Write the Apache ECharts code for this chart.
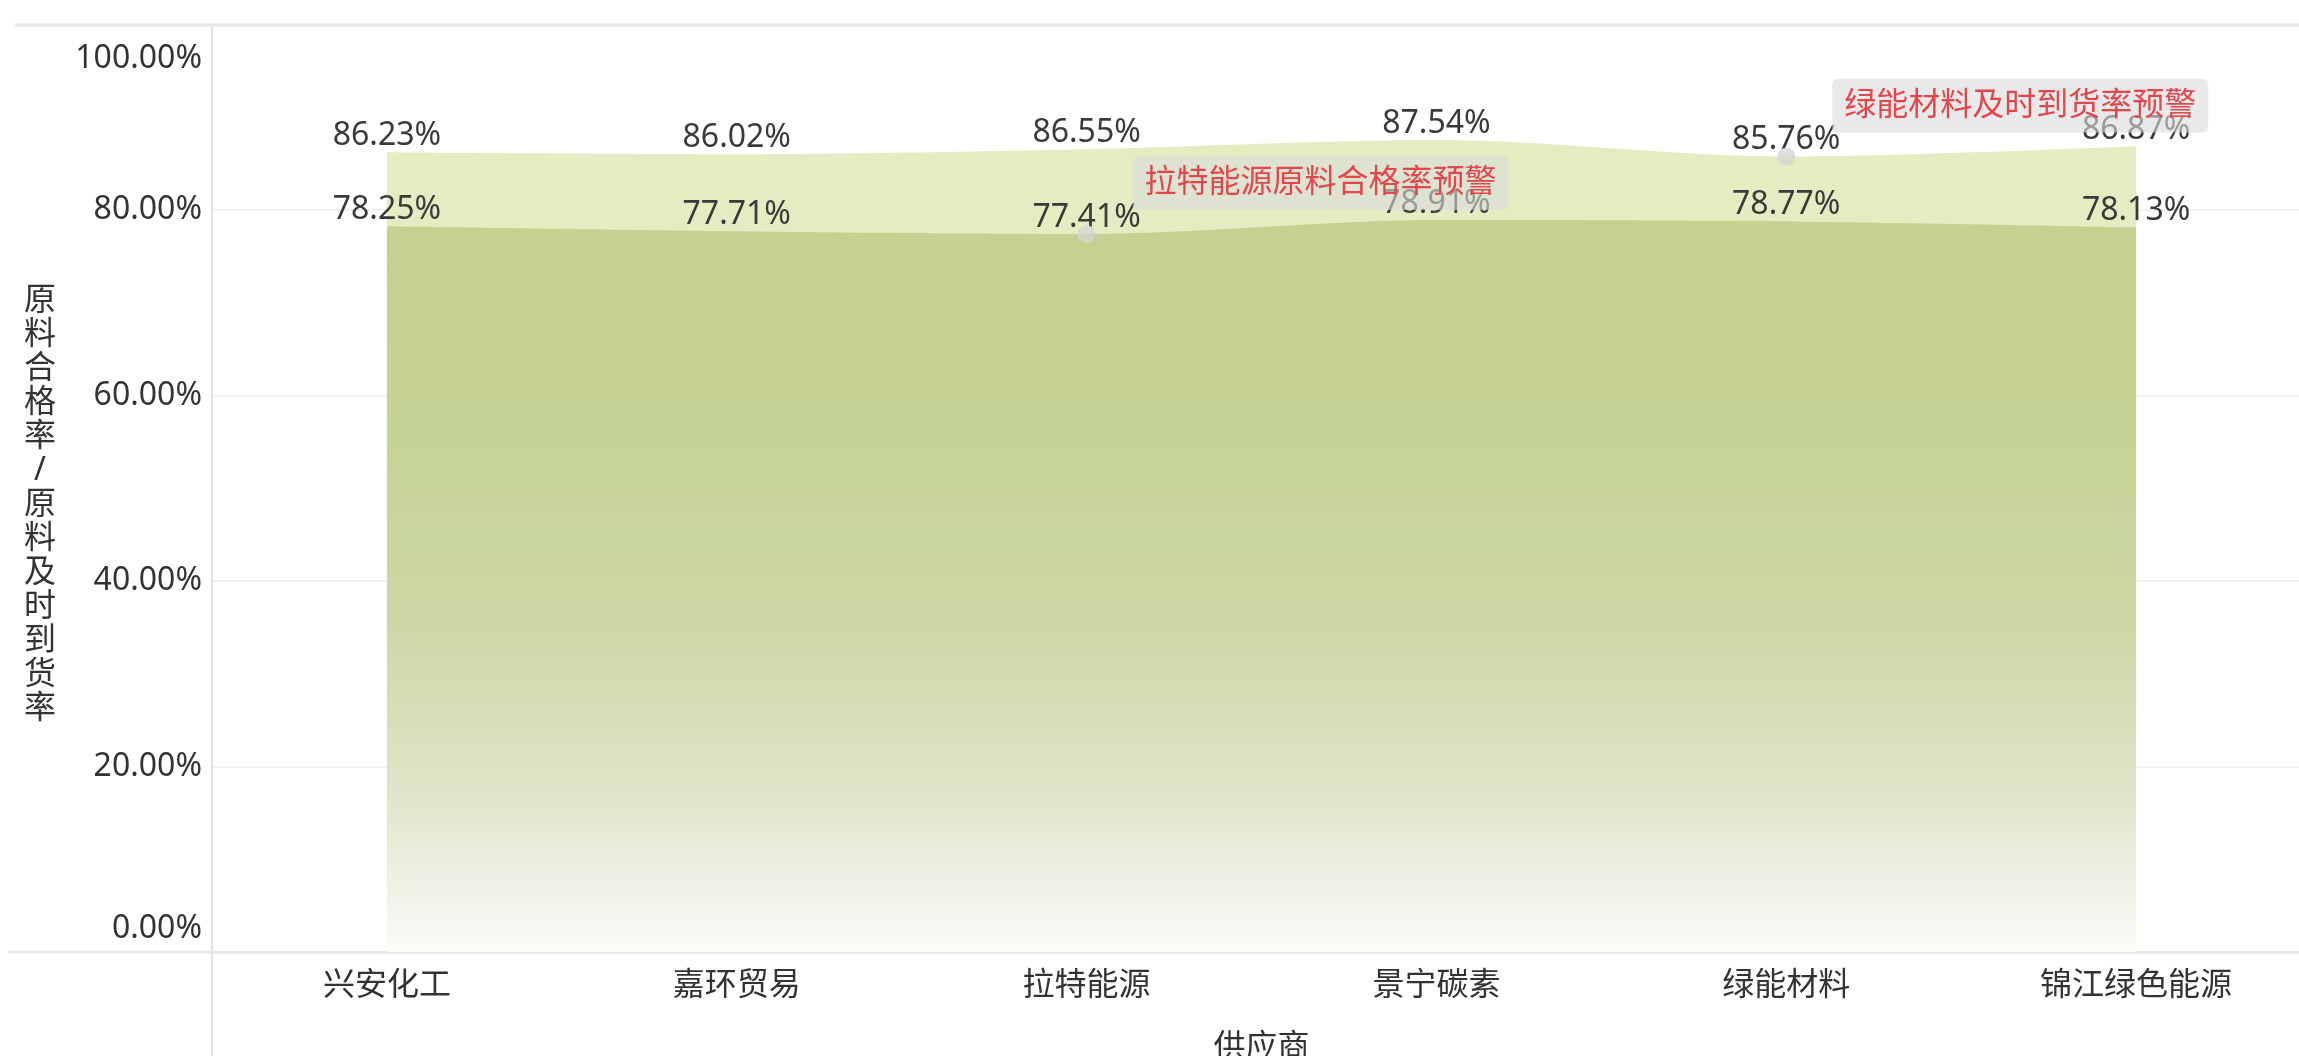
<!DOCTYPE html>
<html>
<head>
<meta charset="utf-8">
<script src="https://cdn.jsdelivr.net/npm/echarts@6/dist/echarts.min.js"></script>
<style>
html,body{margin:0;padding:0;background:#fff;}
#chart{width:2299px;height:1056px;}
</style>
</head>
<body>
<div id="chart"></div>
<script>
var categories = ['兴安化工', '嘉环贸易', '拉特能源', '景宁碳素', '绿能材料', '锦江绿色能源'];
var deliveryRate = [0.8623, 0.8602, 0.8655, 0.8754, 0.8576, 0.8687];
var qualifiedRate = [0.7825, 0.7771, 0.7741, 0.7891, 0.7877, 0.7813];
var seriesNames = ['原料及时到货率', '原料合格率'];
var yAxisTitle = '原料合格率/原料及时到货率';
var xAxisTitle = '供应商';
var warnings = [
  { series: 1, index: 2, text: '拉特能源原料合格率预警' },
  { series: 0, index: 4, text: '绿能材料及时到货率预警' }
];

var FONT = '"Noto Sans", "Noto Sans CJK SC", sans-serif';
function pct(v) { return (v * 100).toFixed(2) + '%'; }

var chart = echarts.init(document.getElementById('chart'));

function markFor(sIdx, values) {
  return warnings.filter(function (w) { return w.series === sIdx; }).map(function (w) {
    return {
      coord: [w.index, values[w.index]],
      label: { formatter: w.text }
    };
  });
}

var markCommon = {
  symbol: 'circle',
  symbolSize: 18,
  z: 10,
  itemStyle: { color: 'rgba(212,212,212,0.75)' },
  label: {
    show: true,
    position: 'inside',
    offset: [234, -51],
    color: '#e5464b',
    fontSize: 32,
    fontFamily: FONT,
    backgroundColor: 'rgba(218,218,218,0.6)',
    borderRadius: 6,
    padding: [11, 12, 11, 12]
  }
};

chart.setOption({
  animation: false,
  backgroundColor: '#ffffff',
  textStyle: { fontFamily: FONT },
  grid: { left: 212, right: -12, top: 24.5, bottom: 104, containLabel: false, outerBoundsMode: 'none' },
  xAxis: {
    type: 'category',
    data: categories,
    boundaryGap: true,
    axisLine: { show: true, lineStyle: { color: '#e8e8e8', width: 3 } },
    axisTick: { show: false },
    axisLabel: { color: '#333', fontSize: 32, margin: 18, fontFamily: FONT },
    name: xAxisTitle,
    nameLocation: 'middle',
    nameGap: 80,
    nameTextStyle: { color: '#333', fontSize: 32, fontFamily: FONT }
  },
  yAxis: {
    type: 'value',
    min: 0,
    max: 1,
    interval: 0.2,
    axisLine: { show: true, lineStyle: { color: '#e2e2e2', width: 2 } },
    axisTick: { show: false },
    splitLine: { show: true, lineStyle: { color: '#f2f2f2', width: 2 } },
    axisLabel: {
      color: '#333',
      fontSize: 32,
      margin: 10,
      fontFamily: FONT,
      formatter: function (v) {
        if (v >= 1) return '{top|' + pct(v) + '}';
        if (v <= 0) return '{bot|' + pct(v) + '}';
        return pct(v);
      },
      rich: {
        top: { fontSize: 32, color: '#333', padding: [69, 0, 0, 0], fontFamily: FONT },
        bot: { fontSize: 32, color: '#333', padding: [0, 0, 46, 0], fontFamily: FONT }
      }
    },
    name: '\n' + yAxisTitle.split('').join('\n'),
    nameLocation: 'middle',
    nameGap: 172,
    nameRotate: 0,
    nameTextStyle: {
      color: '#333',
      fontSize: 32,
      lineHeight: 34,
      align: 'center',
      fontFamily: FONT
    }
  },
  graphic: [
    { type: 'line', z: 50, shape: { x1: 15, y1: 25, x2: 2299, y2: 25 }, style: { stroke: '#e6e6e6', lineWidth: 3 } },
    { type: 'line', z: 50, shape: { x1: 8, y1: 952, x2: 212, y2: 952 }, style: { stroke: '#e8e8e8', lineWidth: 3 } },
    { type: 'line', z: 50, shape: { x1: 212, y1: 952, x2: 212, y2: 1056 }, style: { stroke: '#e2e2e2', lineWidth: 2 } }
  ],
  series: [
    {
      name: seriesNames[0],
      type: 'line',
      data: deliveryRate,
      smooth: 0.3,
      symbol: 'circle',
      symbolSize: 1,
      itemStyle: { color: 'rgba(0,0,0,0)' },
      lineStyle: { width: 0 },
      areaStyle: { color: '#e4edc1', opacity: 1 },
      label: { show: true, position: 'top', distance: 0, color: '#3a3a3a', fontSize: 32, fontFamily: FONT, formatter: function (p) { return pct(p.value); } },
      markPoint: Object.assign({}, markCommon, { data: markFor(0, deliveryRate) }),
      z: 2
    },
    {
      name: seriesNames[1],
      type: 'line',
      data: qualifiedRate,
      smooth: 0.3,
      symbol: 'circle',
      symbolSize: 1,
      itemStyle: { color: 'rgba(0,0,0,0)' },
      lineStyle: { width: 0 },
      areaStyle: {
        opacity: 1,
        color: new echarts.graphic.LinearGradient(0, 0, 0, 1, [
          { offset: 0, color: '#c4d190' },
          { offset: 0.3, color: '#c6d396' },
          { offset: 0.55, color: '#cdd7a6' },
          { offset: 0.78, color: '#dfe5c8' },
          { offset: 0.9, color: '#eef0e4' },
          { offset: 1, color: '#fbfbf8' }
        ])
      },
      label: { show: true, position: 'top', distance: 0, color: '#3a3a3a', fontSize: 32, fontFamily: FONT, formatter: function (p) { return pct(p.value); } },
      markPoint: Object.assign({}, markCommon, { data: markFor(1, qualifiedRate) }),
      z: 3
    }
  ]
});
</script>
</body>
</html>
